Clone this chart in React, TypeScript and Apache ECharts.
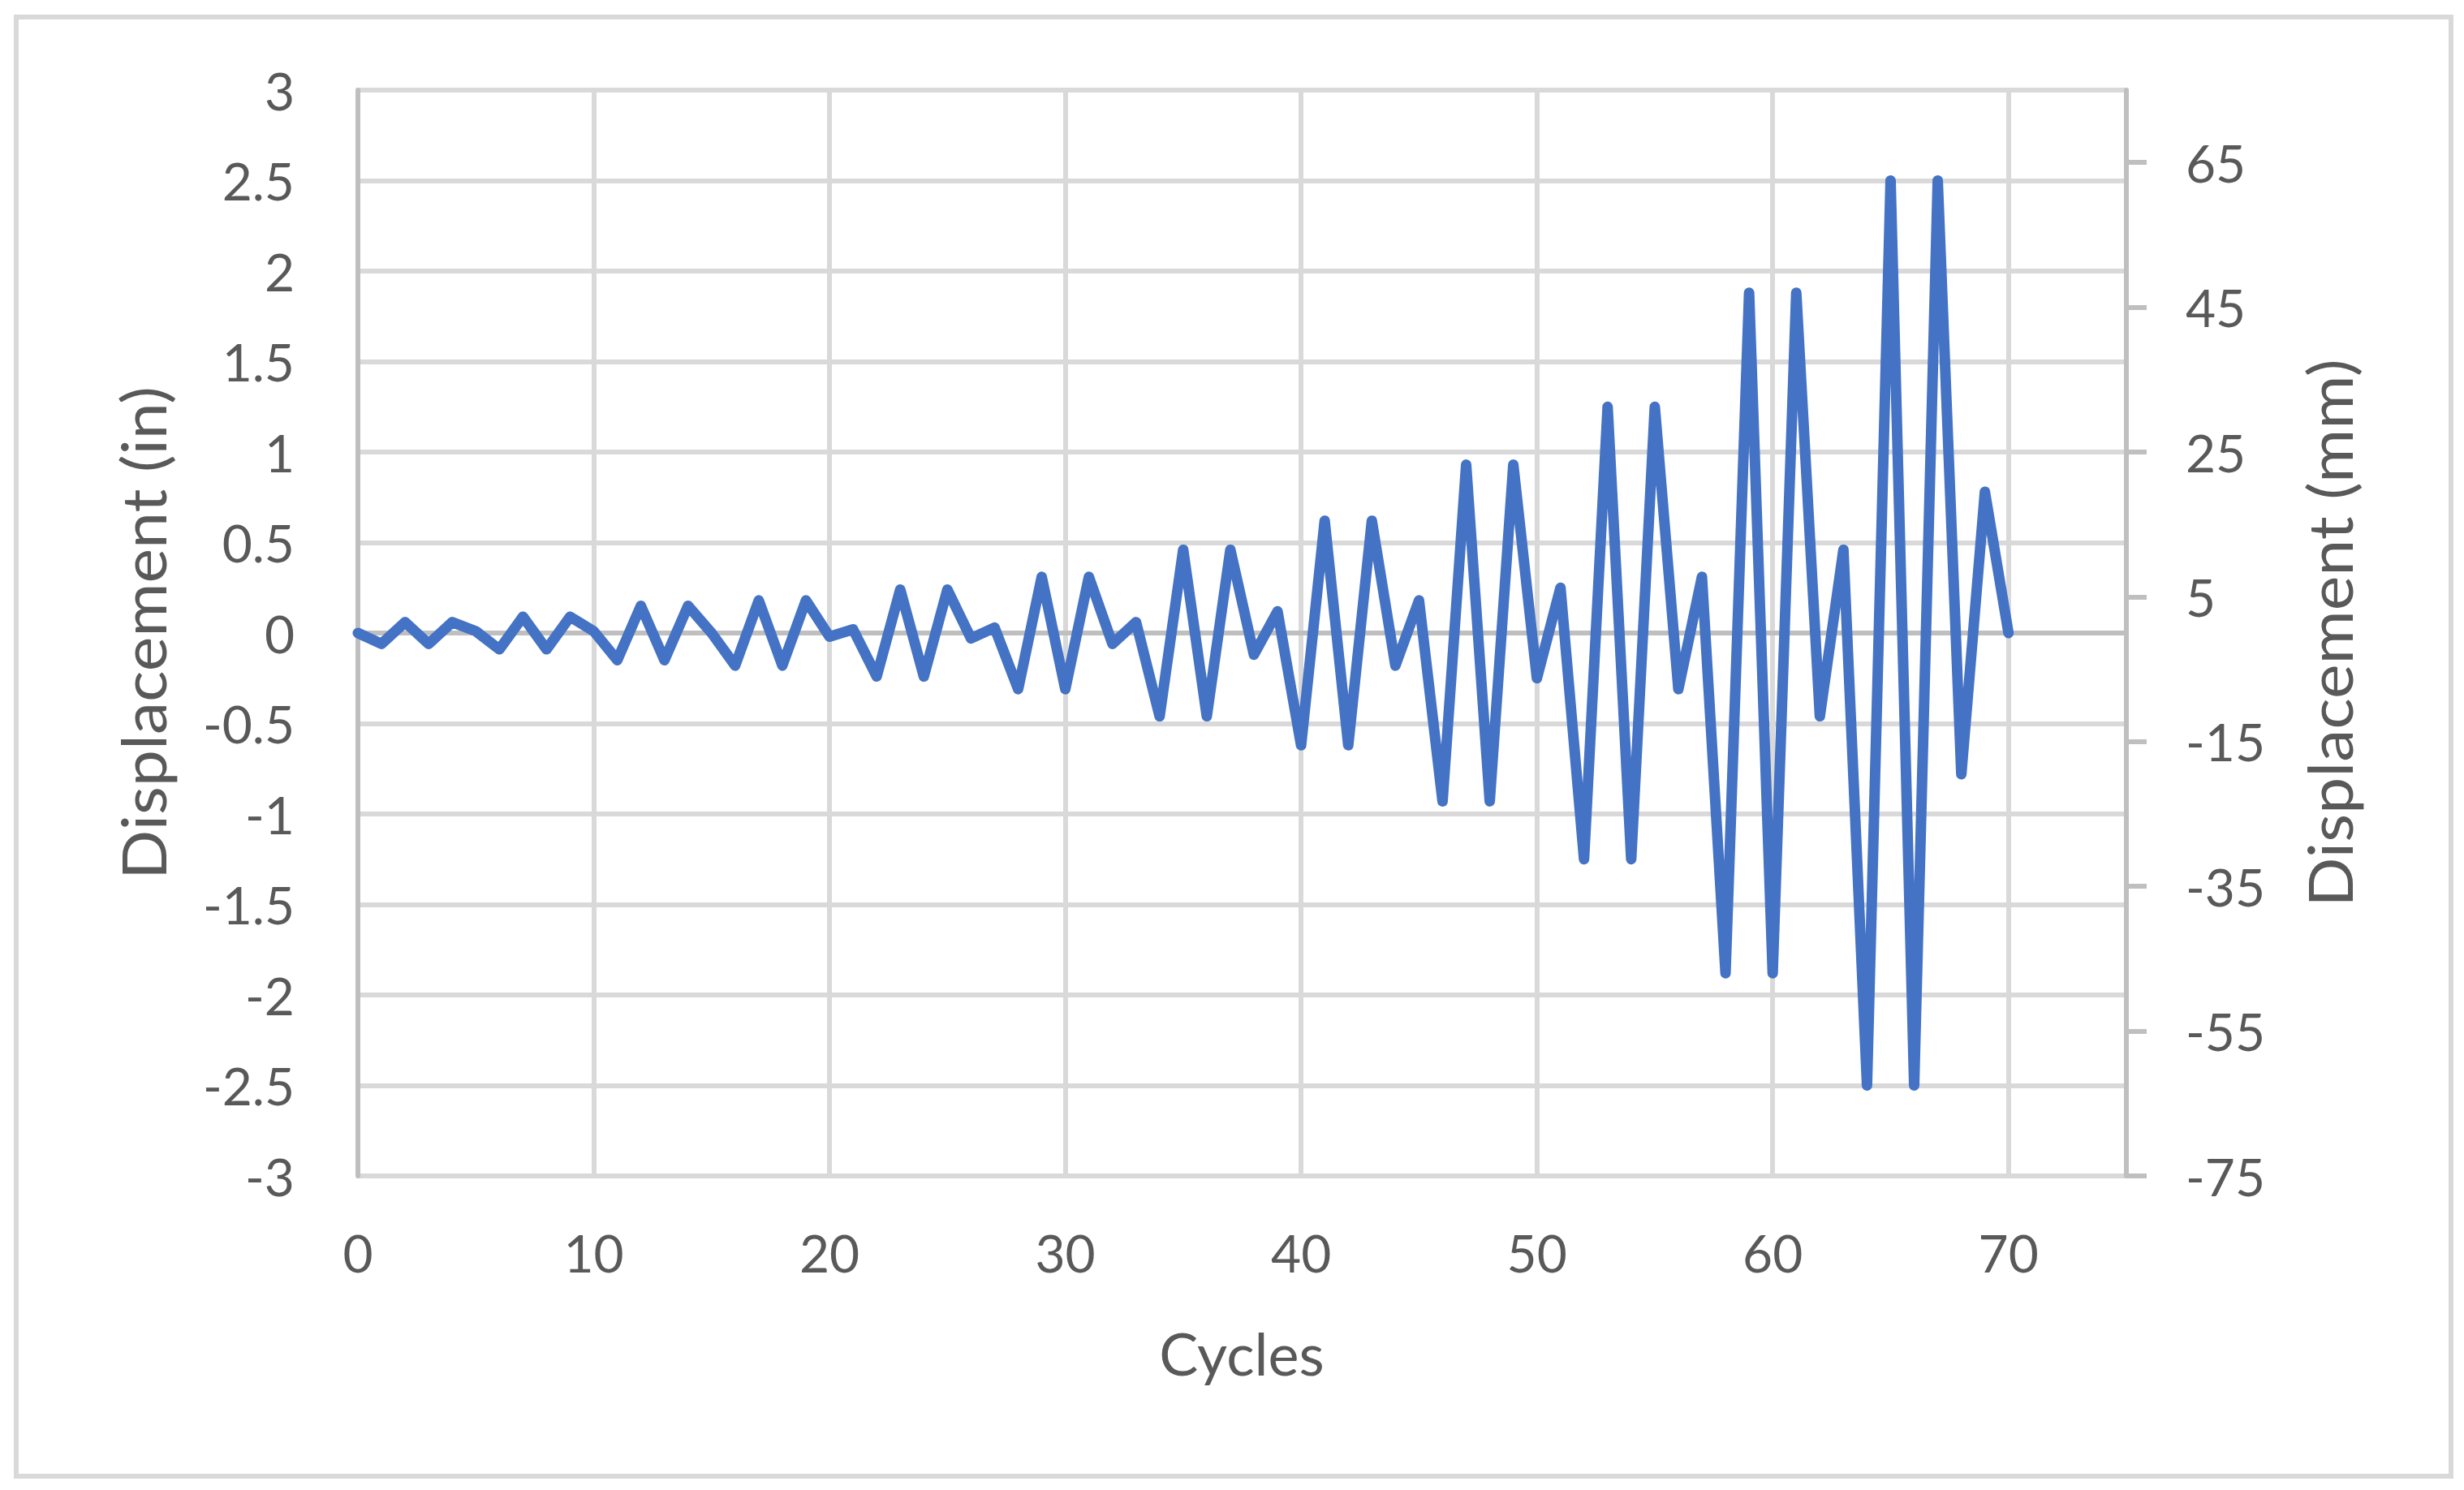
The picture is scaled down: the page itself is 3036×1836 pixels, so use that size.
import React, { useEffect, useRef } from "react";
import * as echarts from "echarts";

const cycles: number[] = Array.from({ length: 71 }, (_, i) => i);
const displacementIn: number[] = [
  0, -0.06, 0.06, -0.06, 0.06, 0.01, -0.09, 0.09, -0.09, 0.09,
  0.01, -0.15, 0.15, -0.15, 0.15, 0.0, -0.18, 0.18, -0.18, 0.18,
  -0.02, 0.02, -0.24, 0.24, -0.24, 0.24, -0.03, 0.03, -0.31, 0.31,
  -0.31, 0.31, -0.06, 0.06, -0.46, 0.46, -0.46, 0.46, -0.12, 0.12,
  -0.62, 0.62, -0.62, 0.62, -0.18, 0.18, -0.93, 0.93, -0.93, 0.93,
  -0.25, 0.25, -1.25, 1.25, -1.25, 1.25, -0.31, 0.31, -1.88, 1.88,
  -1.88, 1.88, -0.46, 0.46, -2.5, 2.5, -2.5, 2.5, -0.78, 0.78,
  0,
];
const mmTicks: number[] = [-75, -55, -35, -15, 5, 25, 45, 65];
const xTitle = "Cycles";
const yLeftTitle = "Displacement (in)";
const yRightTitle = "Displacement (mm)";

const FONT = "Lato";
const TXT = "#595959";

export default function App() {
  const ref = useRef<HTMLDivElement>(null);
  useEffect(() => {
    if (!ref.current) return;
    const chart = echarts.init(ref.current, null, { renderer: "svg" });
    chart.setOption({
      animation: false,
      backgroundColor: "#ffffff",
      textStyle: { fontFamily: FONT },
      grid: { left: 441, right: 416, top: 111, bottom: 387, containLabel: false },
      xAxis: {
        type: "value",
        min: 0,
        max: 75,
        interval: 10,
        axisLine: { show: false },
        axisTick: { show: false },
        splitLine: { show: true, lineStyle: { color: "#d9d9d9", width: 6 } },
        axisLabel: {
          fontSize: 64,
          color: TXT,
          fontFamily: FONT,
          margin: 62,
          showMaxLabel: false,
        },
      },
      yAxis: [
        {
          type: "value",
          position: "left",
          min: -3,
          max: 3,
          interval: 0.5,
          axisLine: { show: true, onZero: false, lineStyle: { color: "#bfbfbf", width: 6 } },
          axisTick: { show: false },
          splitLine: { show: true, lineStyle: { color: "#d9d9d9", width: 6 } },
          axisLabel: { fontSize: 64, color: TXT, fontFamily: FONT, margin: 78 },
        },
        {
          type: "value",
          position: "right",
          min: -75,
          max: 75,
          axisLine: { show: true, onZero: false, lineStyle: { color: "#bfbfbf", width: 6 } },
          axisTick: {
            show: true,
            inside: false,
            length: 25,
            customValues: mmTicks,
            lineStyle: { color: "#bfbfbf", width: 6 },
          },
          splitLine: { show: false },
          axisLabel: {
            fontSize: 64,
            color: TXT,
            fontFamily: FONT,
            margin: 73,
            customValues: mmTicks,
          },
        },
      ],
      graphic: [
        {
          type: "rect",
          shape: { x: 20, y: 21, width: 3000, height: 1798 },
          style: { fill: "none", stroke: "#d9d9d9", lineWidth: 6 },
          silent: true,
        },
        {
          type: "text",
          x: 1530,
          y: 1667,
          style: {
            text: xTitle,
            fontSize: 72,
            fontFamily: FONT,
            fill: TXT,
            textAlign: "center",
            textVerticalAlign: "middle",
          },
        },
        {
          type: "text",
          x: 176,
          y: 780,
          rotation: Math.PI / 2,
          scaleX: 1.06,
          style: {
            text: yLeftTitle,
            fontSize: 76,
            fontFamily: FONT,
            fill: TXT,
            textAlign: "center",
            textVerticalAlign: "middle",
          },
        },
        {
          type: "text",
          x: 2870,
          y: 780,
          rotation: Math.PI / 2,
          scaleX: 1.06,
          style: {
            text: yRightTitle,
            fontSize: 76,
            fontFamily: FONT,
            fill: TXT,
            textAlign: "center",
            textVerticalAlign: "middle",
          },
        },
      ],
      series: [
        {
          type: "line",
          name: "zero",
          data: [
            [0, 0],
            [75, 0],
          ],
          symbol: "none",
          silent: true,
          z: 1,
          lineStyle: { color: "#bfbfbf", width: 6 },
        },
        {
          type: "line",
          name: "Displacement",
          data: cycles.map((c, i) => [c, displacementIn[i]]),
          symbol: "none",
          z: 3,
          lineStyle: { color: "#4472c4", width: 13, join: "round", cap: "round" },
        },
      ],
    });
    return () => chart.dispose();
  }, []);
  return (
    <div
      ref={ref}
      style={{ position: "absolute", left: 0, top: 0, width: 3036, height: 1836 }}
    />
  );
}
